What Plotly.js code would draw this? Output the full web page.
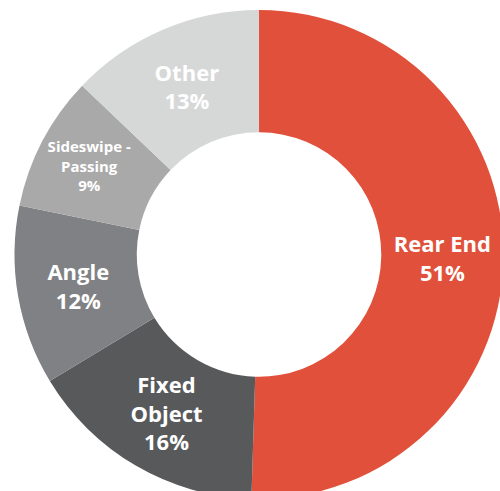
<!DOCTYPE html>
<html>
<head>
<meta charset="utf-8">
<script src="https://cdn.plot.ly/plotly-3.0.1.min.js"></script>
<style>
html,body{margin:0;padding:0;overflow:hidden;background:#fff;width:500px;height:491px;}
#chart{width:520px;height:520px;}
</style>
</head>
<body>
<div id="chart"></div>
<script>
const categories = ["Rear End", "Fixed<br>Object", "Angle", "Sideswipe -<br>Passing", "Other"];
const shares = [51, 16, 12, 9, 13];
const sliceColors = ["#E0503A", "#58595B", "#808184", "#A9A9A9", "#D6D7D7"];
const labelSizes = [22, 22, 22, 15, 22];

const trace = {
  type: "pie",
  labels: categories,
  values: shares,
  hole: 0.5,
  sort: false,
  direction: "clockwise",
  rotation: 0,
  marker: {colors: sliceColors, line: {width: 0}},
  texttemplate: "%{label}<br>%{value}%",
  textposition: "inside",
  insidetextorientation: "horizontal",
  textfont: {family: "Open Sans", size: labelSizes, color: "#ffffff", weight: "bold"},
  hoverinfo: "none",
  domain: {x: [0.0279, 0.9683], y: [0.0404, 0.9808]},
  showlegend: false
};

Plotly.newPlot("chart", [trace], {
  width: 520,
  height: 520,
  margin: {l: 0, r: 0, t: 0, b: 0},
  paper_bgcolor: "#ffffff",
  showlegend: false,
  uniformtext: {mode: false}
}, {displayModeBar: false, staticPlot: true});
</script>
</body>
</html>
